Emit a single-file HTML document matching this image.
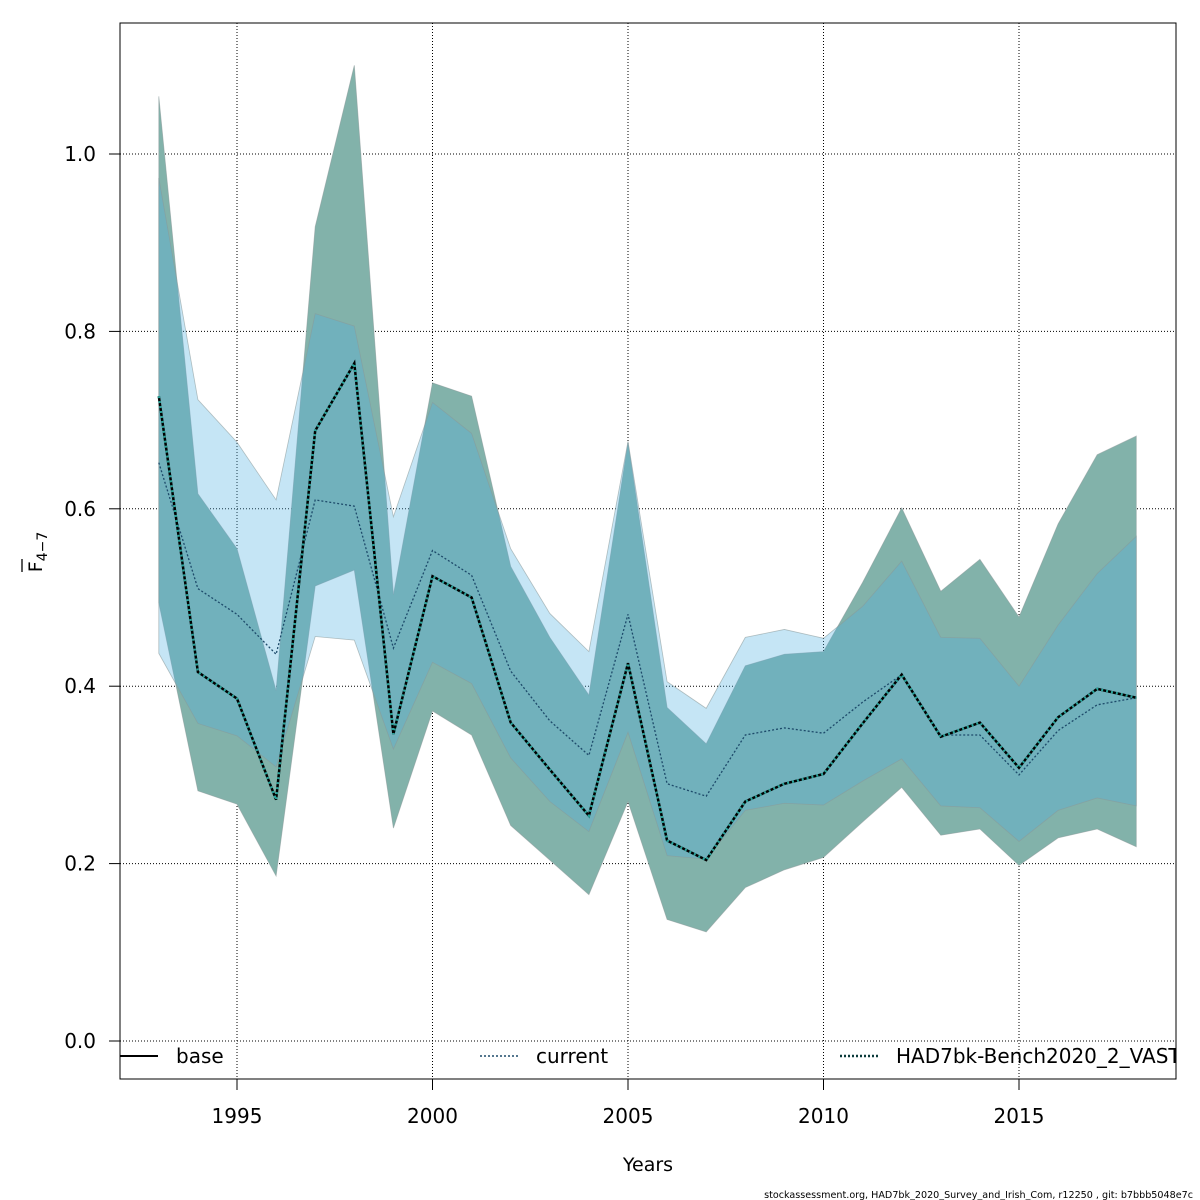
<!DOCTYPE html>
<html><head><meta charset="utf-8"><style>
html,body{margin:0;padding:0;background:#fff;}
svg{display:block;font-family:"DejaVu Sans","Liberation Sans",sans-serif;}
</style></head><body>
<svg id="chart" width="1200" height="1200" viewBox="0 0 1200 1200" xmlns="http://www.w3.org/2000/svg">
<defs><clipPath id="plotclip"><rect x="120" y="23" width="1056" height="1056"/></clipPath></defs>
<rect x="0" y="0" width="1200" height="1200" fill="#fff"/>
<g id="grid"></g>
<g id="bands"></g>
<g id="lines"></g>
<rect x="120" y="23" width="1056" height="1056" fill="none" stroke="#000" stroke-width="1"/>
<g id="axes"></g>
<text x="648" y="1171" font-size="19" text-anchor="middle">Years</text>
<g transform="translate(42,552) rotate(-90)">
<text x="0" y="0" font-size="19" text-anchor="middle">F<tspan font-size="14" dy="5">4−7</tspan></text>
<line x1="-20" y1="-20" x2="-7" y2="-20" stroke="#000" stroke-width="1.3"/>
</g>
<g id="legend" clip-path="url(#plotclip)">
<line x1="120" y1="1056" x2="158" y2="1056" stroke="#000" stroke-width="2"/>
<text x="176" y="1063" font-size="20">base</text>
<line x1="480" y1="1056" x2="518" y2="1056" stroke="#1d4a6a" stroke-width="1.5" stroke-dasharray="2,2"/>
<text x="536" y="1063" font-size="20">current</text>
<line x1="840" y1="1056" x2="878" y2="1056" stroke="#0a3a3a" stroke-width="2.5" stroke-dasharray="2,2"/>
<text x="896" y="1063" font-size="20">HAD7bk-Bench2020_2_VAST</text>
</g>
<text x="1193" y="1198" font-size="9.6" text-anchor="end">stockassessment.org, HAD7bk_2020_Survey_and_Irish_Com, r12250 , git: b7bbb5048e7c</text>
</svg>
<script>
const years=[1993,1994,1995,1996,1997,1998,1999,2000,2001,2002,2003,2004,2005,2006,2007,2008,2009,2010,2011,2012,2013,2014,2015,2016,2017,2018];
const baseVals=[0.727,0.416,0.386,0.272,0.688,0.764,0.346,0.524,0.500,0.359,0.306,0.254,0.426,0.226,0.204,0.270,0.290,0.301,0.358,0.413,0.343,0.359,0.308,0.365,0.397,0.387];
const baseLow=[0.494,0.282,0.267,0.186,0.513,0.531,0.240,0.372,0.345,0.243,0.204,0.165,0.270,0.137,0.123,0.173,0.193,0.207,0.247,0.286,0.232,0.239,0.198,0.229,0.239,0.219];
const baseHigh=[1.065,0.617,0.555,0.395,0.918,1.100,0.503,0.742,0.727,0.535,0.455,0.390,0.675,0.376,0.335,0.423,0.436,0.439,0.517,0.601,0.507,0.543,0.478,0.583,0.661,0.682];
const curVals=[0.652,0.510,0.481,0.436,0.610,0.603,0.443,0.553,0.525,0.417,0.361,0.322,0.481,0.290,0.276,0.345,0.353,0.347,0.382,0.413,0.345,0.345,0.300,0.350,0.379,0.387];
const curLow=[0.437,0.358,0.344,0.309,0.456,0.452,0.329,0.427,0.403,0.319,0.270,0.236,0.348,0.209,0.205,0.260,0.268,0.266,0.293,0.318,0.265,0.263,0.225,0.260,0.274,0.265];
const curHigh=[0.973,0.723,0.675,0.610,0.820,0.806,0.591,0.720,0.685,0.555,0.482,0.439,0.676,0.405,0.375,0.455,0.464,0.454,0.490,0.541,0.455,0.454,0.400,0.469,0.527,0.569];
const xTicks=[1995,2000,2005,2010,2015];
const yTicks=[0,0.2,0.4,0.6,0.8,1.0];
const yTickLabels=["0.0","0.2","0.4","0.6","0.8","1.0"];

const NS="http://www.w3.org/2000/svg";
const X=y=>237+(y-1995)*39.1;
const Y=v=>1041-v*887;
function mk(tag,attrs,parent){const e=document.createElementNS(NS,tag);for(const k in attrs)e.setAttribute(k,attrs[k]);parent.appendChild(e);return e;}
const grid=document.getElementById('grid'),axes=document.getElementById('axes'),bands=document.getElementById('bands'),lines=document.getElementById('lines');
xTicks.forEach(t=>{
 const g=mk('line',{x1:X(t),x2:X(t),y1:23,y2:1079,stroke:'#000','stroke-width':1,'stroke-dasharray':'1,2'},grid);
 
 
 const tk=mk('line',{x1:X(t),x2:X(t),y1:1079,y2:1090,stroke:'#000'},axes);
 
 
 const tx=mk('text',{x:X(t),y:1123,'font-size':20,'text-anchor':'middle'},axes);tx.textContent=t;
 
 
});
yTicks.forEach((t,i)=>{
 const g=mk('line',{x1:120,x2:1176,y1:Y(t),y2:Y(t),stroke:'#000','stroke-width':1,'stroke-dasharray':'1,2'},grid);
 
 
 const tk=mk('line',{x1:109,x2:120,y1:Y(t),y2:Y(t),stroke:'#000'},axes);
 
 
 const tx=mk('text',{x:96,y:Y(t)+7,'font-size':20,'text-anchor':'end'},axes);tx.textContent=yTickLabels[i];
 
 
});
function band(lo,hi,fill,name){
 let d='M'+years.map((y,i)=>X(y)+','+Y(hi[i])).join('L');
 d+='L'+years.slice().reverse().map((y,j)=>{const i=years.length-1-j;return X(y)+','+Y(lo[i]);}).join('L')+'Z';
 const p=mk('path',{d:d,fill:fill,stroke:'#8a9a9a','stroke-width':0.8,'stroke-opacity':0.6},bands);
 
 
}
band(baseLow,baseHigh,'#82b2aa','base-ci-band');
band(curLow,curHigh,'rgba(80,176,225,0.33)','current-ci-band');
function line(vals,stroke,w,dash,name){
 const p=mk('polyline',{points:years.map((y,i)=>X(y)+','+Y(vals[i])).join(' '),fill:'none',stroke:stroke,'stroke-width':w,'stroke-dasharray':dash},lines);
 
 
}
line(curVals,'#1d4a6a',1.3,'2,2','current-line');
line(baseVals,'#000',2.5,'none','base-line');
line(baseVals,'#2aa39a',2.5,'2,3','had7bk-line');
</script>
</body></html>
